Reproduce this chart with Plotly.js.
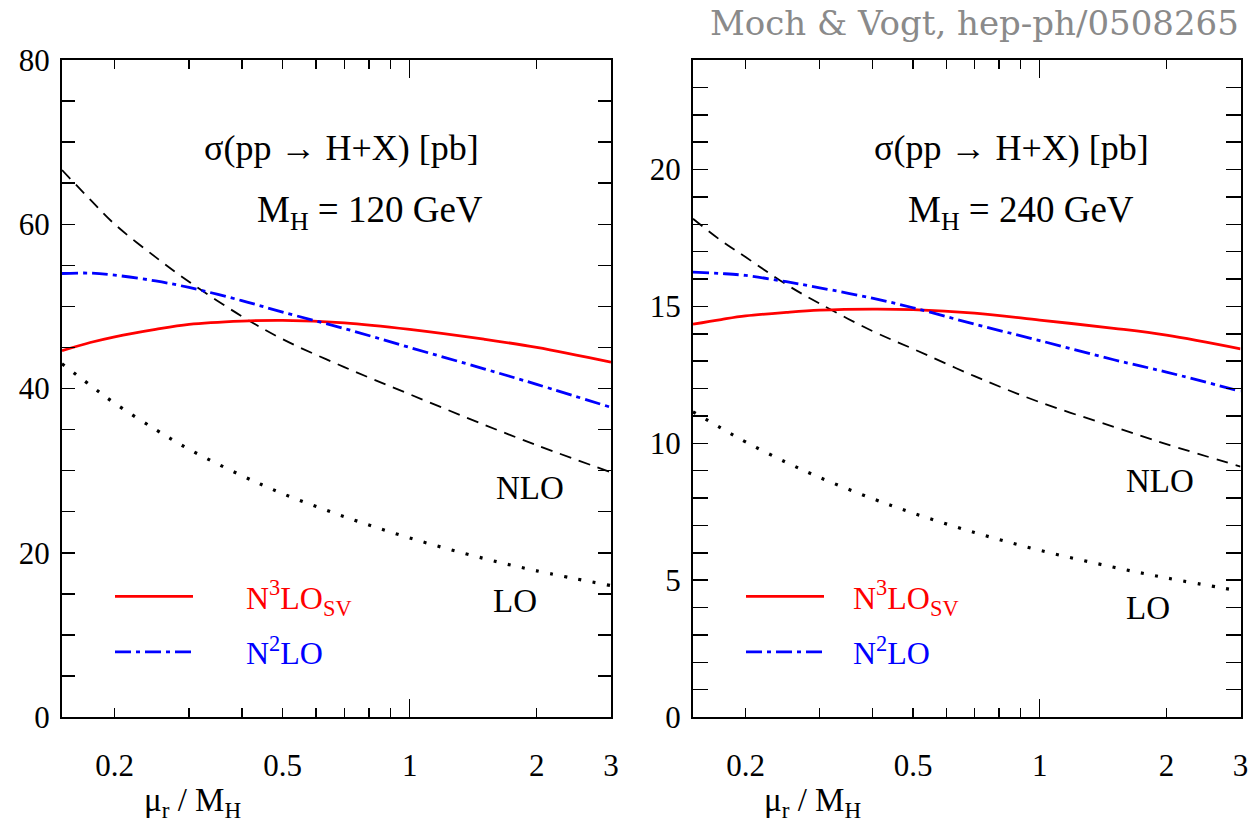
<!DOCTYPE html>
<html>
<head>
<meta charset="utf-8">
<script src="https://cdn.plot.ly/plotly-3.0.1.min.js"></script>
<style>html,body{margin:0;padding:0;background:#fff;}#chart{width:1249px;height:829px;}</style>
</head>
<body>
<div id="chart"></div>
<script>
// scale ratio mu_r / M_H
const xs = [0.15, 0.175, 0.2, 0.25, 0.3, 0.4, 0.5, 0.7, 1, 1.5, 2, 3];

// M_H = 120 GeV (left panel), sigma in pb
const n3loL = [44.6, 45.6, 46.3, 47.2, 47.8, 48.2, 48.3, 48.0, 47.2, 46.0, 45.0, 43.2];
const n2loL = [54.0, 54.05, 53.8, 53.1, 52.3, 50.7, 49.3, 47.3, 45.0, 42.4, 40.5, 37.7];
const nloL  = [66.6, 63.0, 60.0, 56.0, 53.0, 48.8, 46.0, 42.6, 39.3, 35.6, 33.1, 29.8];
const loL   = [43.0, 40.4, 38.2, 35.0, 32.6, 29.4, 27.2, 24.4, 21.8, 19.3, 17.8, 16.0];

// M_H = 240 GeV (right panel), sigma in pb
const n3loR = [14.35, 14.52, 14.65, 14.78, 14.86, 14.9, 14.88, 14.75, 14.5, 14.2, 13.95, 13.45];
const n2loR = [16.25, 16.2, 16.13, 15.9, 15.68, 15.3, 14.95, 14.35, 13.75, 13.05, 12.6, 11.9];
const nloR  = [18.2, 17.4, 16.8, 15.8, 15.1, 14.1, 13.45, 12.45, 11.5, 10.6, 9.97, 9.15];
const loR   = [11.15, 10.55, 10.05, 9.30, 8.75, 7.98, 7.45, 6.74, 6.09, 5.47, 5.08, 4.6];

const xTickVals = [0.2, 0.3, 0.4, 0.5, 0.6, 0.7, 0.8, 0.9, 1, 2, 3];
const xTickText = ['0.2', '', '', '0.5', '', '', '', '', '1', '2', '3'];
const xMajorVals = [1];
const yTickValsL = [0, 20, 40, 60, 80];
const yTickValsR = [0, 5, 10, 15, 20];

const W = 1249, H = 829;
const px = v => v / W;
const py = v => 1 - v / H;
const SERIF = 'Liberation Serif';

function traces(xa, ya, xl, n3, n2, nlo, lo, leg, pad) {
  return [
    {x: xs, y: nlo, xaxis: xa, yaxis: ya, mode: 'lines', line: {color: '#000', width: 1.8, dash: '12px,8px', shape: 'spline'}, showlegend: false, hoverinfo: 'skip'},
    {x: xs, y: lo, xaxis: xa, yaxis: ya, mode: 'lines', line: {color: '#000', width: 3.2, dash: '3px,11.5px', shape: 'spline'}, showlegend: false, hoverinfo: 'skip'},
    {x: xs, y: n3, xaxis: xa, yaxis: ya, mode: 'lines', name: pad + '<span style="color:#ff0000">N<sup>3</sup>LO<sub>SV</sub></span>', legend: leg, legendgroup: 'a', legendrank: 1, line: {color: '#ff0000', width: 2.8, shape: 'spline'}, hoverinfo: 'skip'},
    {x: xs, y: n2, xaxis: xa, yaxis: ya, mode: 'lines', name: pad + '<span style="color:#0000ff">N<sup>2</sup>LO</span>', legend: leg, legendgroup: 'b', legendrank: 2, line: {color: '#0000ff', width: 2.8, dash: '16px,5px,4px,5px', shape: 'spline'}, hoverinfo: 'skip'},
    // transparent copy that carries the overlay axis holding the long "1" tick
    {x: xs, y: lo, xaxis: xl, yaxis: ya, mode: 'lines', opacity: 0, line: {width: 0}, showlegend: false, hoverinfo: 'skip'}
  ];
}

const data = [].concat(
  traces('x', 'y', 'x3', n3loL, n2loL, nloL, loL, 'legend', '\u00a0\u00a0\u00a0\u00a0\u00a0\u00a0'),
  traces('x2', 'y2', 'x4', n3loR, n2loR, nloR, loR, 'legend2', '\u00a0\u00a0\u00a0')
);

const xbase = {
  type: 'log', range: [Math.log10(0.15), Math.log10(3)],
  tickmode: 'array', tickvals: xTickVals, ticktext: xTickText,
  ticks: 'inside', ticklen: 9, tickwidth: 1.5, tickcolor: '#000',
  showline: true, linecolor: '#000', linewidth: 2, mirror: 'allticks',
  showgrid: false, zeroline: false, ticklabelstandoff: 20,
  tickfont: {family: SERIF, size: 31, color: '#000'}, fixedrange: true
};
const xlong = {
  type: 'log', range: [Math.log10(0.15), Math.log10(3)],
  tickmode: 'array', tickvals: xMajorVals, ticktext: [''], showticklabels: false,
  ticks: 'inside', ticklen: 18, tickwidth: 1.5, tickcolor: '#000',
  showline: false, mirror: 'allticks', showgrid: false, zeroline: false, fixedrange: true
};
function yaxis(range, vals, dtickMinor, majLen, domainAnchor) {
  return {
    range: range, tickmode: 'array', tickvals: vals,
    ticks: 'inside', ticklen: majLen, tickwidth: 1.5, tickcolor: '#000',
    minor: {dtick: dtickMinor, ticks: 'inside', ticklen: 8, tickwidth: 1.5, tickcolor: '#000', showgrid: false},
    showline: true, linecolor: '#000', linewidth: 2, mirror: 'allticks',
    showgrid: false, zeroline: false, ticklabelstandoff: 4,
    domain: [py(717), py(60)], anchor: domainAnchor,
    tickfont: {family: SERIF, size: 31, color: '#000'}, fixedrange: true
  };
}

const annFont = (s, c, f) => ({family: f || SERIF, size: s, color: c || '#000'});
function ann(text, x, y, size, opts) {
  return Object.assign({text: text, xref: 'paper', yref: 'paper', x: px(x), y: py(y), showarrow: false, xanchor: 'center', yanchor: 'middle', font: annFont(size)}, opts || {});
}
function legendAt(x) {
  return {x: px(x), y: py(569), xanchor: 'left', yanchor: 'top', bgcolor: 'rgba(0,0,0,0)', itemwidth: 78, tracegroupgap: 11, traceorder: 'grouped', font: annFont(32)};
}

const layout = {
  width: W, height: H,
  margin: {l: 0, r: 0, t: 0, b: 0},
  paper_bgcolor: '#fff', plot_bgcolor: '#fff',
  xaxis: Object.assign({}, xbase, {domain: [px(62), px(611)], anchor: 'y'}),
  yaxis: yaxis([0, 80], yTickValsL, 5, 13, 'x'),
  xaxis2: Object.assign({}, xbase, {domain: [px(693), px(1240.5)], anchor: 'y2'}),
  yaxis2: yaxis([0, 24], yTickValsR, 1, 15, 'x2'),
  xaxis3: Object.assign({}, xlong, {overlaying: 'x', anchor: 'y'}),
  xaxis4: Object.assign({}, xlong, {overlaying: 'x2', anchor: 'y2'}),
  legend: legendAt(110),
  legend2: legendAt(741),
  annotations: [
    ann('Moch &amp; Vogt, hep-ph/0508265', 974, 23, 34, {font: annFont(34, '#8a8a8a', 'DejaVu Serif')}),
    ann('σ(pp → H+X) [pb]', 341, 148, 36),
    ann('M<sub>H</sub> = 120 GeV', 370, 212, 37),
    ann('σ(pp → H+X) [pb]', 1011, 148, 36),
    ann('M<sub>H</sub> = 240 GeV', 1021, 212, 37),
    ann('NLO', 530, 488, 33),
    ann('LO', 515, 601, 33),
    ann('NLO', 1160, 481, 33),
    ann('LO', 1148, 608, 33),
    ann('μ<sub>r</sub> / M<sub>H</sub>', 192, 802, 33),
    ann('μ<sub>r</sub> / M<sub>H</sub>', 812, 802, 33)
  ]
};

Plotly.newPlot('chart', data, layout, {staticPlot: true, displayModeBar: false});
</script>
</body>
</html>
